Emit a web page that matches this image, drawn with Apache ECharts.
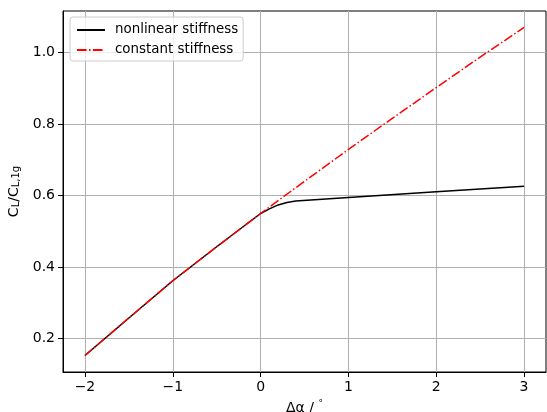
<!DOCTYPE html>
<html>
<head>
<meta charset="utf-8">
<script src="https://cdn.jsdelivr.net/npm/echarts@6/dist/echarts.min.js"></script>
<style>
html,body{margin:0;padding:0;background:#fff;}
#chart{width:547px;height:412px;}
</style>
</head>
<body>
<div id="chart"></div>
<script>
// Data
const xConstant = [-2, -1.5, -1, -0.5, 0, 0.5, 1, 1.5, 2, 2.5, 3];
const yConstant = [0.153, 0.258, 0.362, 0.457, 0.55, 0.64, 0.729, 0.816, 0.902, 0.987, 1.07];
const xNonlinear = [-2, -1.5, -1, -0.5, 0, 0.1, 0.2, 0.3, 0.4, 1, 2, 3];
const yNonlinear = [0.153, 0.258, 0.362, 0.457, 0.55, 0.563, 0.574, 0.581, 0.585, 0.595, 0.611, 0.626];
const xTicks = [-2, -1, 0, 1, 2, 3];
const yTicks = [0.2, 0.4, 0.6, 0.8, 1.0];
const seriesNames = ['nonlinear stiffness', 'constant stiffness'];

const pairs = (xs, ys) => xs.map((x, i) => [x, ys[i]]);
const FONT = 'DejaVu Sans';

const chart = echarts.init(document.getElementById('chart'), null, {renderer: 'canvas'});
chart.setOption({
  animation: false,
  backgroundColor: '#ffffff',
  grid: {left: 63, right: 1, top: 11, bottom: 40, outerBoundsMode: 'none', containLabel: false,
    show: true, borderColor: '#000', borderWidth: 1, backgroundColor: 'transparent'},
  legend: {
    left: 70, top: 17, orient: 'vertical',
    padding: [6, 5, 4, 6],
    itemWidth: 28, itemHeight: 14, itemGap: 6,
    borderColor: '#cccccc', borderWidth: 1, borderRadius: 3,
    backgroundColor: 'rgba(255,255,255,0.8)',
    itemStyle: {opacity: 0},
    textStyle: {fontFamily: FONT, fontSize: 13.4, color: '#000', lineHeight: 14, padding: [0, 0, 0, 5]},
    data: seriesNames
  },
  xAxis: {
    type: 'value', min: -2.25, max: 3.25,
    name: '{n|Δα / }{sup|°}', nameLocation: 'middle', nameGap: 24,
    nameTextStyle: {
      fontFamily: FONT, color: '#000',
      rich: {n: {fontFamily: FONT, fontSize: 14, color: '#000', lineHeight: 18}, sup: {fontFamily: FONT, fontSize: 9, color: '#000', verticalAlign: 'top', lineHeight: 18}}
    },
    axisLine: {show: true, onZero: false, lineStyle: {color: '#000', width: 1}},
    axisTick: {show: true, length: 5, inside: false, lineStyle: {color: '#000', width: 1}, customValues: xTicks},
    axisLabel: {fontFamily: FONT, fontSize: 14, color: '#000', margin: 8, customValues: xTicks,
      formatter: v => (v < 0 ? '\u2212' + Math.abs(v) : String(v))},
    splitLine: {show: true, lineStyle: {color: '#b0b0b0', width: 1}}
  },
  yAxis: {
    type: 'value', min: 0.107, max: 1.116,
    name: '{n|C}{s|L}{n|/C}{s|L,1g}', nameLocation: 'middle', nameGap: 41, nameRotate: 90,
    nameTextStyle: {
      fontFamily: FONT, color: '#000',
      rich: {
        n: {fontFamily: FONT, fontSize: 14, color: '#000', lineHeight: 16, verticalAlign: 'bottom'},
        s: {fontFamily: FONT, fontSize: 10, color: '#000', lineHeight: 8, verticalAlign: 'bottom'}
      }
    },
    axisLine: {show: true, onZero: false, lineStyle: {color: '#000', width: 1}},
    axisTick: {show: true, length: 5, lineStyle: {color: '#000', width: 1}, customValues: yTicks},
    axisLabel: {fontFamily: FONT, fontSize: 14, color: '#000', margin: 8, customValues: yTicks,
      formatter: v => v.toFixed(1)},
    splitLine: {show: true, lineStyle: {color: '#b0b0b0', width: 1}}
  },
  series: [
    {
      name: seriesNames[0], type: 'line', symbol: 'none', z: 2,
      data: pairs(xNonlinear, yNonlinear),
      lineStyle: {color: '#000000', width: 1.5},
      itemStyle: {color: '#000000'}
    },
    {
      name: seriesNames[1], type: 'line', symbol: 'none', z: 3,
      data: pairs(xConstant, yConstant),
      lineStyle: {color: '#ff0000', width: 1.5, type: [9.6, 2.4, 1.5, 2.4]},
      itemStyle: {color: '#ff0000'}
    }
  ]
});
</script>
</body>
</html>
